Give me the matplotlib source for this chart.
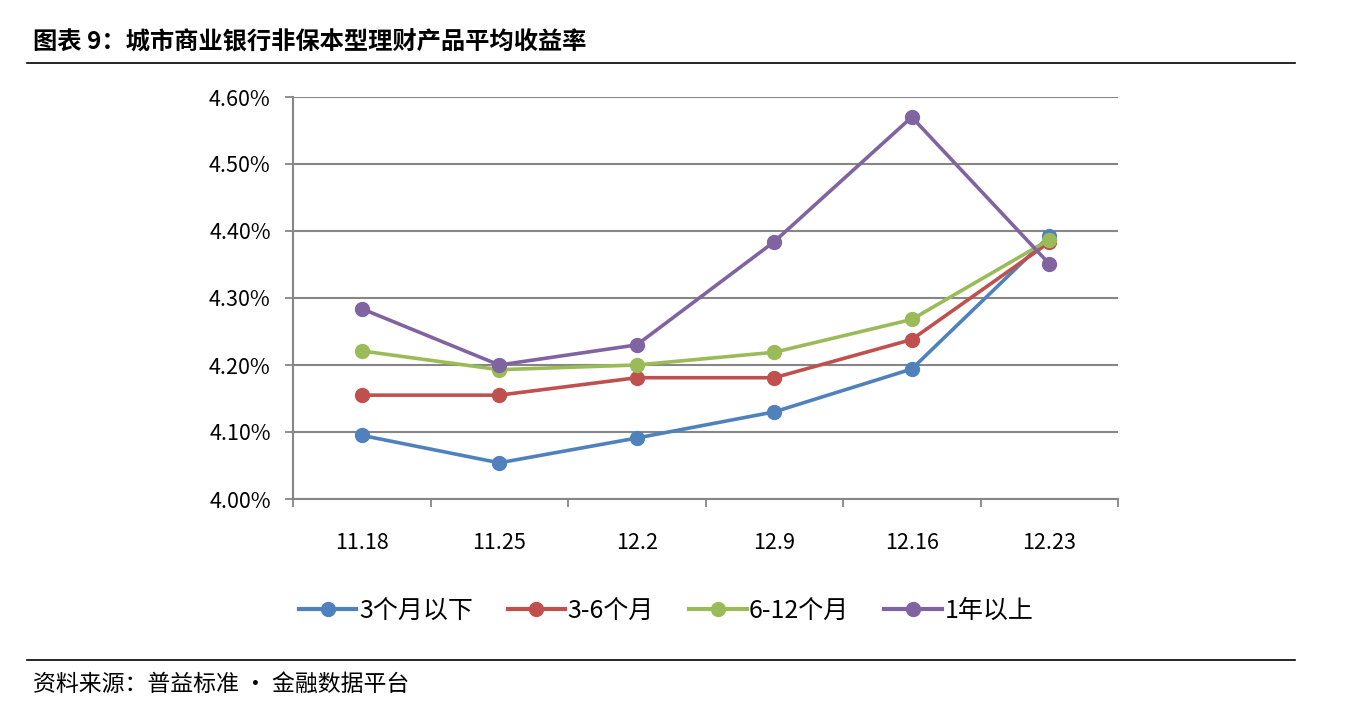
import matplotlib
matplotlib.use("Agg")
import matplotlib.pyplot as plt
from matplotlib.lines import Line2D
from matplotlib.ticker import FixedLocator, FuncFormatter

plt.rcParams['font.family'] = ['Noto Sans CJK SC', 'DejaVu Sans']

categories = ['11.18', '11.25', '12.2', '12.9', '12.16', '12.23']
series_names = ['3个月以下', '3-6个月', '6-12个月', '1年以上']
s_3m = [4.095, 4.054, 4.091, 4.130, 4.194, 4.392]
s_3_6m = [4.155, 4.155, 4.181, 4.181, 4.238, 4.383]
s_6_12m = [4.221, 4.193, 4.200, 4.219, 4.268, 4.387]
s_1y = [4.284, 4.200, 4.230, 4.384, 4.570, 4.351]
y_ticks = [4.00, 4.10, 4.20, 4.30, 4.40, 4.50, 4.60]

colors = ['#4F81BD', '#C0504D', '#9BBB59', '#8064A2']
grid_c = '#868686'

fig = plt.figure(figsize=(13.46, 7.08), dpi=100)
ax = fig.add_axes([293/1346, 1-499/708, (1118-293)/1346, (499-97)/708])

x = list(range(len(categories)))
for vals, name, c in zip([s_3m, s_3_6m, s_6_12m, s_1y], series_names, colors):
    ax.plot(x, vals, color=c, lw=2.6, marker='o', ms=10, label=name, zorder=3)

ax.set_xlim(-0.5, len(categories) - 0.5)
ax.set_ylim(4.0, 4.6)
ax.set_yticks(y_ticks)
ax.yaxis.set_major_formatter(FuncFormatter(lambda v, p: f'{v:.2f}%'))
ax.set_xticks(x)
ax.set_xticklabels(categories)
ax.xaxis.set_minor_locator(FixedLocator([i - 0.5 for i in range(len(categories) + 1)]))
ax.tick_params(axis='x', which='major', length=0, pad=24, labelsize=15.5)
ax.tick_params(axis='x', which='minor', length=6, width=1.3, color=grid_c, direction='out')
ax.tick_params(axis='y', length=6, width=1.3, color=grid_c, pad=10, labelsize=15.5)

ax.grid(axis='y', color=grid_c, lw=1.5, zorder=0)
for s in ['top', 'right']:
    ax.spines[s].set_visible(False)
for s in ['left', 'bottom']:
    ax.spines[s].set_color(grid_c)
    ax.spines[s].set_linewidth(1.5)

handles = [Line2D([0], [0], color=c, lw=3, marker='o', ms=10) for c in colors]
fig.legend(handles, series_names, loc='center', bbox_to_anchor=(666/1346, 1-611/708),
           ncol=4, frameon=False, fontsize=18, handlelength=2.3, columnspacing=1.4,
           handletextpad=0.1)

fig.text(33/1346, 1-43/708, '图表 9：城市商业银行非保本型理财产品平均收益率',
         fontsize=17.5, fontweight='bold', va='center', ha='left')
fig.add_artist(Line2D([27/1346, 1295/1346], [1-63/708, 1-63/708], color='black', lw=1.2))
fig.add_artist(Line2D([27/1346, 1295/1346], [1-660/708, 1-660/708], color='black', lw=1.2))
fig.text(33/1346, 1-684/708, '资料来源：普益标准 • 金融数据平台',
         fontsize=16.5, va='center', ha='left')

fig.savefig('out.png', dpi=100)
